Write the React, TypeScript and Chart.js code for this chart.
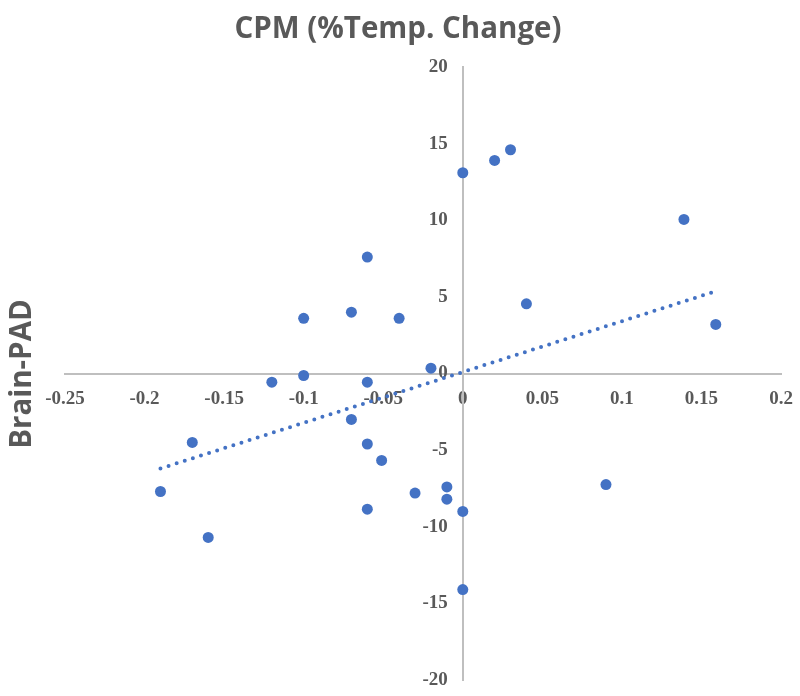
import React, { useEffect, useRef } from 'react';
import { Chart, registerables } from 'chart.js';

Chart.register(...registerables);

const chartTitle = 'CPM (%Temp. Change)';
const yAxisTitle = 'Brain-PAD';

const cpmValues = [
  -0.17, -0.19, -0.16, -0.06, -0.1, -0.07, -0.04, -0.02, -0.1, -0.12, -0.06,
  -0.07, -0.06, -0.051, -0.03, -0.01, -0.01, -0.06, 0, 0, 0, 0.02, 0.03,
  0.139, 0.04, 0.159, 0.09,
];
const brainPadValues = [
  -4.5, -7.7, -10.7, 7.6, 3.6, 4.0, 3.6, 0.35, -0.13, -0.57, -0.57,
  -3.0, -4.6, -5.67, -7.8, -7.4, -8.2, -8.85, -9.0, -14.1, 13.1, 13.9, 14.6,
  10.05, 4.55, 3.2, -7.25,
];

const trendX = [-0.19, 0.16];
const trendY = [-6.2, 5.4];

const xTickLabels = ['-0.25', '-0.2', '-0.15', '-0.1', '-0.05', '0', '0.05', '0.1', '0.15', '0.2'];
const yTickLabels = ['-20', '-15', '-10', '-5', '0', '5', '10', '15', '20'];

const BLUE = '#4472C4';
const GREY_TEXT = '#595959';
const AXIS = '#bfbfbf';
const Y_LABEL_GAP = 15;

const textPlugin = {
  id: 'extraTexts',
  beforeDraw(chart: any) {
    // Chart.js ignores tick padding for object-positioned y axes; shift labels left of the axis.
    const s = chart.scales.y;
    if (s && !s.__shifted) {
      const orig = s.getLabelItems.bind(s);
      s.getLabelItems = (area: any) =>
        orig(area).map((item: any) => ({
          ...item,
          options: {
            ...item.options,
            translation: [item.options.translation[0] - Y_LABEL_GAP, item.options.translation[1]],
          },
        }));
      s.__shifted = true;
    }
  },
  afterDraw(chart: any) {
    const ctx = chart.ctx;
    ctx.save();
    ctx.fillStyle = GREY_TEXT;
    ctx.font = '700 29.5px "Open Sans"';
    ctx.textAlign = 'center';
    ctx.textBaseline = 'alphabetic';
    ctx.fillText(chartTitle, 398, 38);
    ctx.translate(23, 374);
    ctx.rotate(-Math.PI / 2);
    ctx.textBaseline = 'middle';
    ctx.fillText(yAxisTitle, 0, 0);
    ctx.restore();
  },
};

export default function App() {
  const canvasRef = useRef<HTMLCanvasElement | null>(null);

  useEffect(() => {
    let chart: Chart | null = null;
    let cancelled = false;
    const make = () => {
      if (cancelled || !canvasRef.current) return;
      const points = cpmValues.map((x, i) => ({ x, y: brainPadValues[i] }));
      const trend = trendX.map((x, i) => ({ x, y: trendY[i] }));
      chart = new Chart(canvasRef.current, {
        type: 'scatter',
        data: {
          datasets: [
            {
              label: 'Brain-PAD',
              data: points,
              backgroundColor: BLUE,
              borderColor: BLUE,
              pointRadius: 5.5,
              pointBorderWidth: 0,
            },
            {
              label: 'Trend',
              data: trend,
              showLine: true,
              borderColor: BLUE,
              backgroundColor: BLUE,
              borderWidth: 4,
              borderDash: [0, 8.5],
              borderCapStyle: 'round',
              pointRadius: 0,
              fill: false,
            } as any,
          ],
        },
        options: {
          responsive: false,
          animation: false,
          layout: { padding: { left: 65, top: 67, right: 19, bottom: 16 } },
          plugins: {
            legend: { display: false },
            title: { display: false },
            tooltip: { enabled: false },
          },
          scales: {
            x: {
              type: 'linear',
              position: { y: 0 } as any,
              min: -0.25,
              max: 0.2,
              grid: { display: false, drawTicks: false },
              border: { display: true, color: AXIS, width: 2 },
              afterFit: (s: any) => {
                s.paddingLeft = 0;
                s.paddingRight = 0;
              },
              ticks: {
                stepSize: 0.05,
                autoSkip: false,
                maxRotation: 0,
                padding: 14,
                color: GREY_TEXT,
                font: { family: '"Liberation Serif"', size: 19, weight: 'bold' },
                callback: (_v: any, i: number) => xTickLabels[i],
              },
            },
            y: {
              type: 'linear',
              position: { x: 0 } as any,
              min: -20,
              max: 20,
              grid: { display: false, drawTicks: false },
              border: { display: true, color: AXIS, width: 2 },
              afterFit: (s: any) => {
                s.paddingTop = 0;
                s.paddingBottom = 0;
              },
              ticks: {
                stepSize: 5,
                autoSkip: false,
                padding: 0,
                color: GREY_TEXT,
                font: { family: '"Liberation Serif"', size: 19, weight: 'bold' },
                callback: (_v: any, i: number) => yTickLabels[i],
              },
            },
          },
        },
        plugins: [textPlugin],
      });
    };
    const fontsReady = (document as any).fonts
      ? Promise.all([
          (document as any).fonts.load('700 29.5px "Open Sans"'),
          (document as any).fonts.load('700 19px "Liberation Serif"'),
        ]).catch(() => null)
      : Promise.resolve(null);
    fontsReady.then(make);
    return () => {
      cancelled = true;
      if (chart) chart.destroy();
    };
  }, []);

  return (
    <div style={{ position: 'fixed', left: 0, top: 0, width: 800, height: 696, background: '#fff' }}>
      <canvas ref={canvasRef} width={800} height={696} style={{ width: 800, height: 696 }} />
    </div>
  );
}
